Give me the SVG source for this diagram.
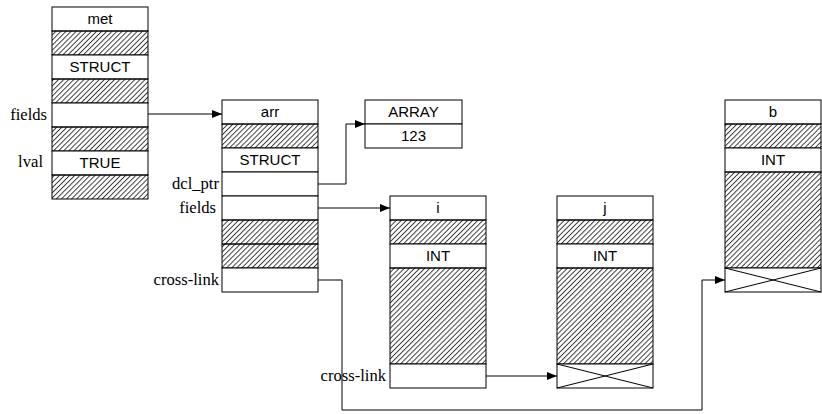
<svg xmlns="http://www.w3.org/2000/svg" width="822" height="414" viewBox="0 0 822 414">
<defs>
<pattern id="hatch" width="3.6" height="3.6" patternUnits="userSpaceOnUse" patternTransform="rotate(45)">
<line x1="0.5" y1="0" x2="0.5" y2="3.6" stroke="#000" stroke-width="0.75"/>
</pattern>
<marker id="arrow" markerUnits="userSpaceOnUse" markerWidth="10" markerHeight="8" refX="10" refY="4" orient="auto">
<path d="M0,0 L10,4 L0,8 z" fill="#000"/>
</marker>
</defs>
<style>
.cell{fill:#fff;stroke:#000;stroke-width:1}
.hat{fill:url(#hatch);stroke:#000;stroke-width:1}
.t{font-family:"Liberation Sans",Arial,sans-serif;font-size:15px;text-anchor:middle;fill:#000}
.lab{font-family:"Liberation Serif","Times New Roman",serif;font-size:16.6px;text-anchor:end;fill:#000}
.conn{fill:none;stroke:#000;stroke-width:1}
.x{stroke:#000;stroke-width:1}
</style>
<rect width="822" height="414" fill="#fff"/>

<g id="met">
<rect class="cell" x="52" y="7" width="96" height="24"/>
<text class="t" x="100" y="24">met</text>
<rect class="hat" x="52" y="31" width="96" height="24"/>
<rect class="cell" x="52" y="55" width="96" height="24"/>
<text class="t" x="100" y="72">STRUCT</text>
<rect class="hat" x="52" y="79" width="96" height="24"/>
<rect class="cell" x="52" y="103" width="96" height="24"/>
<rect class="hat" x="52" y="127" width="96" height="24"/>
<rect class="cell" x="52" y="151" width="96" height="24"/>
<text class="t" x="100" y="168">TRUE</text>
<rect class="hat" x="52" y="175" width="96" height="24"/>
<text class="lab" x="47" y="120">fields</text>
<text class="lab" x="43" y="167">lval</text>
</g>

<g id="arr">
<rect class="cell" x="222" y="100" width="96" height="24"/>
<text class="t" x="270" y="117">arr</text>
<rect class="hat" x="222" y="124" width="96" height="24"/>
<rect class="cell" x="222" y="148" width="96" height="24"/>
<text class="t" x="270" y="165">STRUCT</text>
<rect class="cell" x="222" y="172" width="96" height="24"/>
<rect class="cell" x="222" y="196" width="96" height="24"/>
<rect class="hat" x="222" y="220" width="96" height="24"/>
<rect class="hat" x="222" y="244" width="96" height="24"/>
<rect class="cell" x="222" y="268" width="96" height="24"/>
<text class="lab" x="219" y="189">dcl_ptr</text>
<text class="lab" x="216" y="213">fields</text>
<text class="lab" x="219" y="285">cross-link</text>
</g>

<g id="array">
<rect class="cell" x="365" y="100" width="97" height="24"/>
<text class="t" x="413.5" y="117">ARRAY</text>
<rect class="cell" x="365" y="124" width="97" height="24"/>
<text class="t" x="413.5" y="141">123</text>
</g>

<g id="i">
<rect class="cell" x="390" y="196" width="96" height="24"/>
<text class="t" x="438" y="213">i</text>
<rect class="hat" x="390" y="220" width="96" height="24"/>
<rect class="cell" x="390" y="244" width="96" height="24"/>
<text class="t" x="438" y="261">INT</text>
<rect class="hat" x="390" y="268" width="96" height="96"/>
<rect class="cell" x="390" y="364" width="96" height="24"/>
<text class="lab" x="386" y="381">cross-link</text>
</g>

<g id="j">
<rect class="cell" x="557" y="196" width="96" height="24"/>
<text class="t" x="605" y="213">j</text>
<rect class="hat" x="557" y="220" width="96" height="24"/>
<rect class="cell" x="557" y="244" width="96" height="24"/>
<text class="t" x="605" y="261">INT</text>
<rect class="hat" x="557" y="268" width="96" height="96"/>
<rect class="cell" x="557" y="364" width="96" height="24"/>
<line class="x" x1="557" y1="364" x2="653" y2="388"/>
<line class="x" x1="557" y1="388" x2="653" y2="364"/>
</g>

<g id="b">
<rect class="cell" x="725" y="100" width="96" height="24"/>
<text class="t" x="773" y="117">b</text>
<rect class="hat" x="725" y="124" width="96" height="24"/>
<rect class="cell" x="725" y="148" width="96" height="24"/>
<text class="t" x="773" y="165">INT</text>
<rect class="hat" x="725" y="172" width="96" height="96"/>
<rect class="cell" x="725" y="268" width="96" height="24"/>
<line class="x" x1="725" y1="268" x2="821" y2="292"/>
<line class="x" x1="725" y1="292" x2="821" y2="268"/>
</g>

<g id="connectors">
<path class="conn" d="M148,114 H222" marker-end="url(#arrow)"/>
<path class="conn" d="M318,184 H346 V124 H365" marker-end="url(#arrow)"/>
<path class="conn" d="M318,208 H390" marker-end="url(#arrow)"/>
<path class="conn" d="M318,280 H342 V410 H702 V280 H725" marker-end="url(#arrow)"/>
<path class="conn" d="M486,376 H557" marker-end="url(#arrow)"/>
</g>
</svg>
